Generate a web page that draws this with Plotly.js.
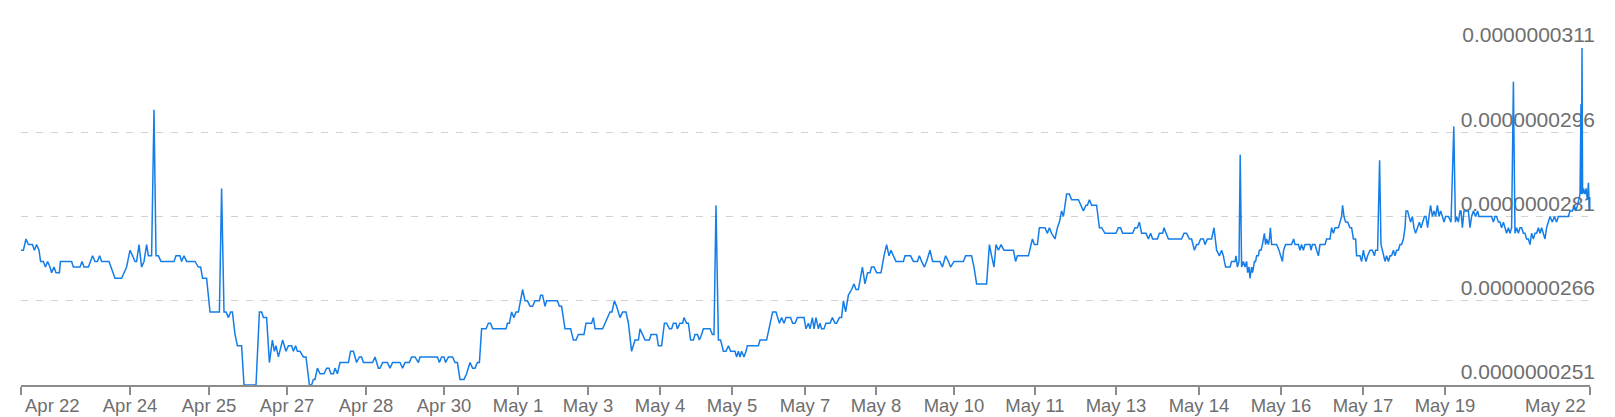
<!DOCTYPE html>
<html>
<head>
<meta charset="utf-8">
<script src="https://cdn.plot.ly/plotly-3.0.1.min.js"></script>
<style>
  html, body { margin: 0; padding: 0; background: #fff; }
  #chart { width: 1615px; height: 417px; }
</style>
</head>
<body>
<div id="chart"></div>
<script>
// hour index since start of window, price in units of 1e-9
const hours = [
  0, 1.2, 2.5, 3.7, 5.7, 6.7, 7.8, 9, 9.8, 11.2, 12.2, 13.3, 14.5, 15.3, 16.5, 17.5, 19.2, 19.7,
  25.3, 26.2, 29.5, 30.5, 31.5, 33.7, 35.8, 37, 38.2, 39.3, 40.3, 44, 47, 50.3, 52.8, 54.5, 55.8,
  57, 57.8, 59, 60.3, 61.5, 62.8, 63.7, 65.3, 66.5, 67.5, 68.7, 70, 76.5, 77.5, 79.5, 80.3, 81.5,
  82.8, 87, 88.7, 89.8, 90.8, 92.8, 94.5, 99.2, 100.3, 101.5, 102.5, 103.7, 104.8, 105.7, 107,
  108.2, 110.3, 111.5, 117.5, 119.2, 120.3, 121.2, 122.8, 124.2, 125.7, 126.7, 127.5, 128.7,
  130.8, 132.5, 133.7, 135.3, 136.2, 137.3, 138.2, 139.5, 141.2, 142.5, 144.2, 145.3, 146.2, 147,
  148.2, 149.5, 151.5, 152.8, 154, 155, 156.2, 157, 158.2, 159.5, 163.7, 164.8, 166.2, 167.8,
  169.2, 170.3, 171.2, 175.8, 177, 178.7, 179.5, 180.8, 183.2, 184.5, 185.8, 189.5, 190.8, 192,
  194.2, 195.3, 197, 198.7,
  199.5, 208.2, 209.2, 210.3, 211.5, 212.3, 213.7, 215.8, 217, 218.2, 219.5, 221.5, 222.8, 224.5,
  225.8, 227, 228.2, 229.2, 230.3, 232.5, 233.7, 234.8, 235.8, 242.5, 243.2, 244.2, 245.3, 246.5,
  247.5, 248.7, 250.8, 252, 253.2, 254.5, 255.8, 257, 259.2, 259.8, 260.8, 262, 262.8, 268.2,
  269.2, 270.3, 272, 274.8, 276.2, 277.5, 278.7, 281.5, 282.5, 285.3, 286.2, 287, 290.8, 292,
  294.5, 295.5, 296.7, 297.8, 299.5, 300.8, 302.5, 303.7, 305.3, 307, 308.7, 309.5, 312, 314.2,
  315, 317.8, 318.7, 320.3, 321.7, 322.8, 324.2, 325.3, 326.2, 327.5, 328.2, 329.5, 330.8, 331.5,
  332.8, 333.7, 334.8, 336.2, 337, 338.2, 339.2, 340.3, 341.2, 344.5, 345.7, 346.5, 347.5, 348.7,
  349.8, 351.2, 352.5, 353.7, 354.8, 357, 357.8, 358.7, 359.5, 360.3, 361.5, 362.5, 363.2, 368.7,
  369.5, 372.8, 374.5, 375.8, 377.5, 379.2, 380.3, 381.5, 382.5, 384.8, 385.8, 387, 388.2, 391.5,
  392.5, 393.7, 394.5, 395.7, 396.5, 397.5, 398.7,
  399.5, 400.3, 401.5, 402.5, 404.5, 405.7, 407, 407.8, 409.2, 410.3, 411.2, 412.3, 413.7, 415.3,
  416.5, 417.5, 418.7, 420.7, 422, 423.3, 424.5, 425.3, 426.5, 427.8, 430, 431.5, 432.8, 434, 435,
  436.2, 437.5, 441.2, 442, 444.8, 446.2, 448.2, 449.2, 450.3, 451.7, 452.8, 454.5, 455.8, 459.5,
  460.7, 462.3, 463.7, 464.8, 466.5, 471.2, 472.3, 475.3, 476.5, 477.8, 482.8, 484.2, 485.3, 486.5,
  487.5, 488.7, 490, 491.5, 496.2, 497.3, 498.2, 503.7, 505.7, 506.7, 508.2, 509.2, 512, 513.2,
  514.2, 515.3, 517, 518.2, 519.2, 520.3, 521.2, 522.8, 524.2, 525.3, 528.7, 529.8, 531.2, 532.5,
  533.2, 534.2, 535.3, 537.8, 539.2, 540.3, 542, 547.5, 548.7, 549.8, 550.8, 555.8, 557, 558.2,
  559.2, 560.3, 562.5, 563.7, 564.8, 565.8, 568.2, 569.2, 570.8, 571.5, 573.7, 580.3, 581.5, 582.8,
  584.2, 585.3, 586.7, 587.8, 588.7, 589.8, 591.2, 592, 593.2, 595.3, 596.5, 597.8, 599.2,
  600.3, 601.2, 601.7, 602.3, 604.5, 605.3, 607, 607.5, 608.2, 609, 609.6, 610.3, 611.2, 612,
  612.8, 613.3, 614, 614.5, 615.3, 615.8, 616.7, 617.3, 617.8, 618.7, 619.2, 620, 620.7, 621.7,
  622.3, 622.8, 623.7, 624.2, 624.7, 625.3, 626.2, 627.8, 629, 630, 630.7, 631.3, 632.3, 635.3,
  636.3, 637, 638.7, 639.5, 640.3, 641.2, 642, 644.5, 645, 645.7, 647, 647.8, 648.7, 649.5, 652,
  652.8, 654.5, 655.3, 656.2, 657,
  657.8, 658.7, 659.5, 660.3, 660.8, 661.5, 662.3, 663.3, 664.5, 665.3, 666.2, 667.3, 667.8, 669.5,
  670.3, 671.2, 671.7, 672.5, 673.3, 674.5, 675.7, 676.7, 677.3, 678.3, 679.3, 680, 680.7, 681.3,
  682, 682.8, 683.7, 684.5, 685.3, 686.2, 687, 687.8, 688.7, 689.5, 690.3, 691.2, 692, 692.5,
  693.3, 694, 694.8, 695.7, 696.5, 697.3, 698.3, 699.2, 700, 700.7, 701.7, 702.5, 703.3, 704,
  704.8, 705.7, 706.5, 707.3, 708.2, 709, 709.8, 710.7, 711.5, 712.3, 713.7, 715, 716.4, 717.2,
  717.8, 718.7, 719.5, 720, 720.7, 721.5, 722.5, 723.7, 724.5, 725.3, 726.2, 727.3, 728.3, 729,
  735.3, 736.2, 737, 737.8, 738.7, 739.5, 740.3, 741.2, 742, 742.8, 743.7, 744.5, 745.3, 746.2,
  747, 747.8, 748.7, 749.5, 750.3, 751.2, 752, 752.8, 753.7, 754.5, 755.3, 756.2, 757, 757.8,
  758.7, 759.5, 760.3, 761.2, 762, 762.8, 763.7, 764.5, 765.7, 766.7, 767.8, 768.7, 773.7, 774.5,
  775.7, 776.7, 777.3, 778.3, 779.5, 780, 780.2, 780.5, 780.8, 781.2, 782, 782.5, 783.2, 783.7,
  784.2, 784.5
];

const priceNano = [
  27.5, 27.5, 27.7, 27.6, 27.6, 27.5, 27.6, 27.5, 27.3, 27.3, 27.2, 27.3, 27.2, 27.1, 27.2, 27.1, 27.1, 27.3,
  27.3, 27.2, 27.2, 27.3, 27.2, 27.2, 27.4, 27.3, 27.3, 27.4, 27.3, 27.3, 27.0, 27.0, 27.2, 27.5, 27.4,
  27.3, 27.3, 27.6, 27.2, 27.3, 27.6, 27.4, 27.4, 30.0, 27.4, 27.4, 27.3, 27.3, 27.4, 27.4, 27.3, 27.4,
  27.3, 27.3, 27.2, 27.2, 27.0, 27.0, 26.4, 26.4, 28.6, 26.4, 26.4, 26.3, 26.4, 26.4, 26.0,
  25.8, 25.8, 25.1, 25.1, 26.4, 26.4, 26.3, 26.3, 25.5, 25.9, 25.7, 25.8, 25.6,
  25.9, 25.7, 25.8, 25.8, 25.7, 25.8, 25.7, 25.7, 25.6, 25.6, 25.1, 25.1, 25.2, 25.2,
  25.4, 25.3, 25.3, 25.4, 25.4, 25.3, 25.3, 25.4, 25.3, 25.5, 25.5, 25.7, 25.7, 25.5,
  25.6, 25.6, 25.5, 25.5, 25.6, 25.4, 25.4, 25.5, 25.5, 25.4, 25.5, 25.5, 25.4, 25.5,
  25.5, 25.6, 25.6, 25.5,
  25.6, 25.6, 25.5, 25.6, 25.6, 25.5, 25.6, 25.6, 25.5, 25.5, 25.2, 25.2, 25.3, 25.5,
  25.4, 25.4, 25.5, 25.5, 26.1, 26.1, 26.2, 26.2, 26.1, 26.1, 26.2, 26.2, 26.4, 26.3,
  26.4, 26.4, 26.8, 26.6, 26.6, 26.5, 26.5, 26.6, 26.6, 26.7, 26.7, 26.5, 26.6, 26.6,
  26.5, 26.5, 26.1, 26.1, 25.9, 25.9, 26.0, 26.0, 26.2, 26.2, 26.3, 26.1, 26.1, 26.2,
  26.4, 26.4, 26.6, 26.5, 26.3, 26.4, 26.4, 26.2, 25.7, 25.9, 25.9, 26.1, 25.9, 25.9,
  26.0, 26.0, 25.8, 25.8, 26.2, 26.2, 26.1, 26.1, 26.2, 26.2, 26.1, 26.2, 26.2, 26.3,
  26.2, 26.2, 25.9, 25.9, 26.0, 26.0, 25.9, 26.0, 26.1, 26.1, 26.0, 26.0, 28.3, 25.9,
  25.9, 25.7, 25.7, 25.8, 25.7, 25.7, 25.6, 25.7, 25.6, 25.7, 25.6, 25.7, 25.8, 25.8,
  25.9, 25.9, 26.2, 26.4, 26.4, 26.2, 26.3, 26.2, 26.3, 26.3, 26.2, 26.2, 26.3, 26.3,
  26.1, 26.2, 26.1, 26.3, 26.1, 26.3, 26.1,
  26.2, 26.1, 26.1, 26.2, 26.2, 26.3, 26.2, 26.2, 26.3, 26.3, 26.6, 26.4, 26.7, 26.8,
  26.9, 26.8, 26.8, 27.2, 26.9, 27.1, 27.1, 27.2, 27.2, 27.1, 27.1, 27.4, 27.6, 27.4, 27.5,
  27.4, 27.3, 27.3, 27.4, 27.4, 27.3, 27.3, 27.4, 27.3, 27.2, 27.3, 27.5, 27.3, 27.3,
  27.2, 27.4, 27.3, 27.2, 27.3, 27.3, 27.4, 27.4, 27.2, 26.9, 26.9, 27.6, 27.4, 27.2,
  27.6, 27.5, 27.6, 27.5, 27.5, 27.3, 27.4, 27.4, 27.7, 27.6, 27.6, 27.9, 27.9, 27.8,
  27.9, 27.8, 27.7, 27.9, 28.0, 28.2, 28.1, 28.5, 28.5, 28.4, 28.4, 28.3, 28.2, 28.3,
  28.3, 28.4, 28.3, 28.3, 27.9, 27.9, 27.8, 27.8, 27.9, 27.9, 27.8, 27.8, 27.9, 27.9,
  28.0, 27.8, 27.8, 27.7, 27.8, 27.7, 27.7, 27.8, 27.8, 27.9, 27.7, 27.7, 27.8, 27.8,
  27.7, 27.7, 27.5, 27.6, 27.6, 27.7, 27.7, 27.6, 27.7, 27.7, 27.9, 27.5, 27.4,
  27.5, 27.4, 27.3, 27.2, 27.2, 27.3, 27.3, 27.4, 27.2, 27.3, 29.2, 27.2, 27.3, 27.2,
  27.3, 27.1, 27.2, 27.0, 27.2, 27.1, 27.3, 27.3, 27.4, 27.4, 27.5, 27.5, 27.6, 27.8,
  27.6, 27.7, 27.6, 27.7, 27.9, 27.6, 27.6, 27.6, 27.5, 27.4, 27.3, 27.5, 27.6, 27.6,
  27.7, 27.6, 27.6, 27.5, 27.6, 27.5, 27.6, 27.6, 27.5, 27.6, 27.6, 27.5, 27.4, 27.6, 27.6,
  27.7, 27.7, 27.9, 27.8, 27.9,
  27.9, 27.9, 28.0, 28.1, 28.3, 28.1, 28.0, 28.0, 27.9, 27.9, 27.7, 27.7, 27.4, 27.4,
  27.3, 27.5, 27.4, 27.3, 27.4, 27.5, 27.5, 27.4, 27.5, 27.5, 29.1, 27.6, 27.5, 27.4,
  27.3, 27.4, 27.3, 27.4, 27.4, 27.5, 27.4, 27.5, 27.5, 27.6, 27.6, 27.7, 27.9, 28.2,
  28.2, 28.1, 28.0, 28.1, 27.9, 27.8, 27.9, 28.0, 27.9, 28.0, 28.1, 28.1, 27.9, 28.1,
  28.3, 28.1, 28.2, 28.1, 28.3, 28.1, 28.2, 28.1, 28.0, 28.1, 28.1, 28.0, 29.7, 28.0,
  28.1, 28.0, 28.2, 28.2, 27.9, 28.2, 28.2, 28.2, 27.9, 28.1, 28.2, 28.1, 28.2, 28.1,
  28.1, 28.0, 28.1, 28.1, 28.0, 28.0, 27.9, 28.0, 27.9, 27.8, 27.9, 27.8, 27.9, 30.5,
  27.8, 27.9, 27.8, 27.9, 27.9, 27.8, 27.8, 27.7, 27.7, 27.6, 27.8, 27.7, 27.8, 27.8,
  27.9, 27.8, 27.9, 27.8, 27.7, 27.9, 28.0, 28.1, 28.0, 28.1, 28.0, 28.1, 28.1, 28.2,
  28.2, 28.3, 28.2, 28.3, 28.5, 30.1, 28.5, 31.1, 28.5, 28.6, 28.5, 28.6, 28.4, 28.7,
  28.2, 28.3
];

const tickHours = [0, 54.5, 94, 133, 172.5, 211.5, 248.5, 283.5, 319.5, 355.5, 392, 427.5, 466.5, 507, 547.5, 589, 630, 671, 712, 784.5];
const tickLabels = ['Apr 22', 'Apr 24', 'Apr 25', 'Apr 27', 'Apr 28', 'Apr 30', 'May 1', 'May 3', 'May 4', 'May 5',
  'May 7', 'May 8', 'May 10', 'May 11', 'May 13', 'May 14', 'May 16', 'May 17', 'May 19', 'May 22'];

const priceTicks = [25.1, 26.6, 28.1, 29.6, 31.1];
const priceTickLabels = ['0.0000000251', '0.0000000266', '0.0000000281', '0.0000000296', '0.0000000311'];

const font = '"Liberation Sans", Arial, Helvetica, sans-serif';
const labelColor = '#6e6e6e';
const last = tickHours.length - 1;

const trace = {
  x: hours,
  y: priceNano,
  type: 'scatter',
  mode: 'lines',
  line: { color: '#147de8', width: 1.5 },
  cliponaxis: false,
  hoverinfo: 'skip'
};

const layout = {
  width: 1615,
  height: 417,
  margin: { l: 21, r: 25, t: 48, b: 32 },
  paper_bgcolor: '#ffffff',
  plot_bgcolor: '#ffffff',
  showlegend: false,
  font: { family: font, color: labelColor },
  xaxis: {
    range: [0, tickHours[last]],
    tickmode: 'array',
    tickvals: tickHours,
    // the end labels are drawn as annotations so they stay inside the page
    ticktext: tickLabels.map((t, i) => (i === 0 || i === last) ? '' : t),
    tickfont: { size: 18.5, color: labelColor, family: font },
    ticks: 'outside',
    ticklen: 8,
    tickwidth: 2,
    tickcolor: '#8c8c8c',
    ticklabelstandoff: -5,
    showline: true,
    linecolor: '#8c8c8c',
    linewidth: 2,
    showgrid: false,
    zeroline: false,
    layer: 'below traces',
    fixedrange: true
  },
  yaxis: {
    range: [priceTicks[0], priceTicks[priceTicks.length - 1]],
    side: 'right',
    tickmode: 'array',
    tickvals: priceTicks,
    ticktext: priceTickLabels,
    ticklabelposition: 'inside',
    ticklabelshift: -13,
    ticklabelstandoff: -8,
    ticklabeloverflow: 'allow',
    tickfont: { size: 21, color: labelColor, family: font },
    ticks: '',
    showline: false,
    showgrid: true,
    gridcolor: '#d0d0d0',
    gridwidth: 1.2,
    griddash: '7px,8px',
    zeroline: false,
    layer: 'below traces',
    fixedrange: true
  },
  annotations: [
    {
      x: tickHours[0], y: 0, xref: 'x', yref: 'paper',
      text: tickLabels[0], showarrow: false,
      xanchor: 'left', yanchor: 'top', yshift: -8, xshift: 2,
      font: { size: 18.5, color: labelColor, family: font }
    },
    {
      x: tickHours[last], y: 0, xref: 'x', yref: 'paper',
      text: tickLabels[last], showarrow: false,
      xanchor: 'right', yanchor: 'top', yshift: -8, xshift: -2,
      font: { size: 18.5, color: labelColor, family: font }
    }
  ]
};

Plotly.newPlot('chart', [trace], layout, { displayModeBar: false, staticPlot: true });
</script>
</body>
</html>
